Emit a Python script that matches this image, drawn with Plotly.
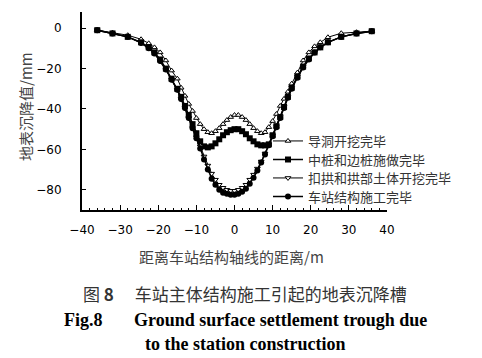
import plotly.graph_objects as go

# distance from station axis (m)
x_pos = [-36, -32, -28, -24.5, -22.5, -21, -19.5, -18, -16.5, -15,
         -14, -13, -12, -11, -10, -9, -8, -7, -6, -5, -4, -3, -2, -1, 0,
         1, 2, 3, 4, 5, 6, 7, 8, 9, 10, 11, 12, 13, 14,
         15, 16.5, 18, 19.5, 21, 22.5, 24.5, 28, 32, 36]

# 导洞开挖完毕
s_daodong = [-1, -2.3, -3.5, -5.5, -7.5, -9.5, -12, -16, -21, -25,
             -29.5, -33.5, -37.5, -41, -44.5, -47.5, -50, -51.5, -52, -51, -49.5, -47.5, -45.5, -44, -43,
             -43, -44, -45.5, -47.5, -49.5, -51, -52, -51.5, -49, -46, -42.5, -38.5, -35, -31.5,
             -27.5, -22, -16, -12, -9, -7, -4.5, -2.5, -2, -1.5]

# 中桩和边桩施做完毕
s_zhongzhuang = [-1, -2.6, -4.3, -7, -9.5, -12, -15.5, -20, -25, -30,
                 -34, -38.5, -43, -47.5, -52, -56, -58.5, -59, -58.5, -57, -55, -53, -51.5, -50.5, -50,
                 -50, -51, -52.5, -54.5, -56, -57.5, -58, -58, -57.5, -53, -48.5, -44, -39, -34,
                 -29.5, -24, -19, -15, -12, -9.5, -7, -4.3, -2.6, -1.5]

# 扣拱和拱部土体开挖完毕
s_kougong = [-1, -2.6, -4.3, -7.3, -10, -12.5, -16.3, -20.5, -25.5, -30.5,
             -35, -39.5, -44.5, -49.5, -54, -58.5, -63.5, -68, -72, -75, -77.5, -79, -80, -80.5, -80.5,
             -80, -79, -77.5, -75, -72.5, -69.5, -66, -62, -57.5, -53, -48.5, -44, -39, -34,
             -29.5, -24, -19, -15, -12, -9.5, -7, -4.3, -2.6, -1.5]

# 车站结构施工完毕
s_chezhan = [-1, -2.6, -4.3, -7.3, -10, -12.5, -16.3, -20.5, -25.5, -30.5,
             -35, -39.5, -44.5, -49.5, -54.5, -59.5, -65, -70, -74.5, -77.5, -80, -81.5, -82, -82.5, -82.5,
             -82, -81, -79.5, -77, -74, -70.5, -66.5, -62.5, -58, -53.5, -49, -44.5, -39.5, -34.5,
             -30, -24.5, -19.5, -15.5, -12, -9.5, -7, -4.3, -2.6, -1.5]

names = ["导洞开挖完毕", "中桩和边桩施做完毕", "扣拱和拱部土体开挖完毕", "车站结构施工完毕"]

x_ticks = [-40, -30, -20, -10, 0, 10, 20, 30, 40]
y_ticks = [0, -20, -40, -60, -80]

# page geometry (browser body has an 8px margin)
OFF = 8
PX0, PX1, PY0, PY1 = 82, 387, 12, 210


def px(xp):
    return (xp - PX0) / (PX1 - PX0)


def py(yp):
    return (PY1 - yp) / (PY1 - PY0)


cjk = "Noto Sans CJK SC"
fig = go.Figure()
styles = [
    (s_daodong, dict(symbol="triangle-up", size=5, color="white", line=dict(color="black", width=1)), 1),
    (s_zhongzhuang, dict(symbol="square", size=6, color="black", line=dict(color="black", width=0)), 1.5),
    (s_kougong, dict(symbol="triangle-down", size=5, color="white", line=dict(color="black", width=1)), 1),
    (s_chezhan, dict(symbol="circle", size=6, color="black", line=dict(color="black", width=0)), 1.5),
]
legend_keys = ["legend", "legend2", "legend3", "legend4"]
legend_rows = [141, 159.5, 178, 196.5]
for (ys, mk, lw), nm, lk in zip(styles, names, legend_keys):
    fig.add_trace(go.Scatter(x=x_pos, y=ys, mode="lines+markers", name=nm, legend=lk,
                             line=dict(color="black", width=lw), marker=mk))

leg_layout = {}
for lk, row in zip(legend_keys, legend_rows):
    leg_layout[lk] = dict(x=px(268), y=py(row), xanchor="left", yanchor="middle",
                          font=dict(family=cjk, size=13, color="#333333"),
                          bgcolor="rgba(0,0,0,0)", itemwidth=30)

fig.update_layout(
    width=482 - OFF, height=358 - OFF,
    margin=dict(l=PX0 - OFF, r=482 - PX1, t=PY0 - OFF, b=358 - PY1),
    paper_bgcolor="white", plot_bgcolor="white",
    showlegend=True,
    xaxis=dict(range=[-40, 40], tickvals=x_ticks, ticks="inside", ticklen=5, tickwidth=1,
               tickcolor="black", showline=True, linecolor="black", linewidth=2,
               showgrid=False, zeroline=False,
               minor=dict(dtick=2, ticks="inside", ticklen=2, tickcolor="black"),
               tickfont=dict(family="DejaVu Sans", size=12, color="black"),
               ticklabelstandoff=8),
    yaxis=dict(range=[-90, 8], tickvals=y_ticks, ticks="inside", ticklen=4, tickwidth=1,
               tickcolor="black", showline=True, linecolor="black", linewidth=2,
               showgrid=False, zeroline=False,
               tickfont=dict(family="DejaVu Sans", size=12, color="black"),
               ticklabelstandoff=16),
    **leg_layout,
)

ann = [
    dict(text="地表沉降值/mm", x=25, y=107, textangle=-90, font=dict(family=cjk, size=15, color="#444444")),
    dict(text="距离车站结构轴线的距离/m", x=231, y=256, font=dict(family=cjk, size=15, color="#444444")),
    dict(text="图 <b>8</b>　 车站主体结构施工引起的地表沉降槽", x=245, y=293, font=dict(family=cjk, size=17, color="#333333")),
    dict(text="<b>Fig.8　   Ground surface settlement trough due</b>", x=245, y=320, font=dict(family="Liberation Serif", size=18, color="black")),
    dict(text="<b>to the station construction</b>", x=245, y=344, font=dict(family="Liberation Serif", size=18, color="black")),
]
for a in ann:
    fig.add_annotation(xref="paper", yref="paper", showarrow=False,
                       x=px(a["x"]), y=py(a["y"]),
                       xanchor="center", yanchor="middle",
                       text=a["text"], textangle=a.get("textangle", 0), font=a["font"])

fig.write_html("out.html")
